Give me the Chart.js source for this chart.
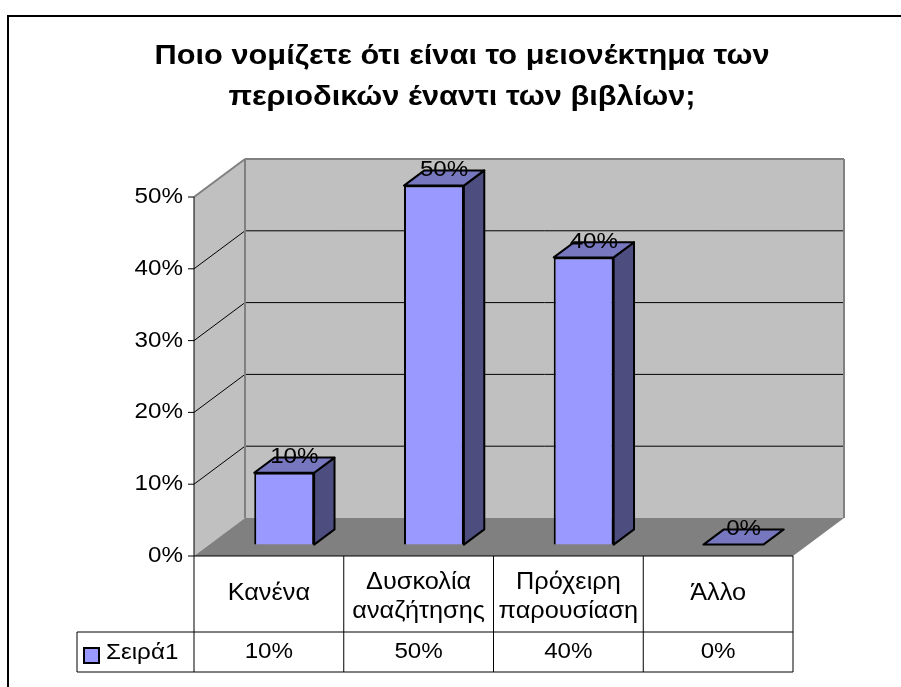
<!DOCTYPE html>
<html>
<head>
<meta charset="utf-8">
<script src="https://cdn.jsdelivr.net/npm/chart.js@4.4.1/dist/chart.umd.min.js"></script>
<style>
  html, body { margin: 0; padding: 0; background: #fff; }
  #wrap { position: absolute; left: 0; top: 0; width: 901px; height: 687px; }
</style>
</head>
<body>
<div id="wrap"><canvas id="graf" width="901" height="687"></canvas></div>
<script>
// podatki
const naslov = ["Ποιο νομίζετε ότι είναι το μειονέκτημα των", "περιοδικών έναντι των βιβλίων;"];
const kategorije = ["Κανένα", ["Δυσκολία", "αναζήτησης"], ["Πρόχειρη", "παρουσίαση"], "Άλλο"];
const vrednosti = [10, 50, 40, 0];
const oznakeY = [0, 10, 20, 30, 40, 50];
const imeSerije = "Σειρά1";

// 3D izgled
const DX = 51;
const DY = -38;
const SPREDAJ = 0.3;
const ZADAJ = 0.7;
const PISAVA = "'Liberation Sans', Arial, sans-serif";

function besedilo(ctx, txt, x, y, size, bold, align, sx) {
  ctx.save();
  ctx.font = (bold ? "bold " : "") + size + "px " + PISAVA;
  ctx.fillStyle = "#000";
  ctx.textBaseline = "middle";
  ctx.textAlign = align || "center";
  ctx.translate(x, y);
  ctx.scale(sx || 1.1, 1);
  ctx.fillText(txt, 0, 0);
  ctx.restore();
}

function poligon(ctx, tocke, fill, stroke, lw) {
  ctx.beginPath();
  ctx.moveTo(tocke[0][0], tocke[0][1]);
  for (let i = 1; i < tocke.length; i++) ctx.lineTo(tocke[i][0], tocke[i][1]);
  ctx.closePath();
  if (fill) {
    ctx.fillStyle = fill;
    ctx.fill();
  }
  if (stroke) {
    ctx.strokeStyle = stroke;
    ctx.lineWidth = lw || 1;
    ctx.stroke();
  }
}

function crta(ctx, x1, y1, x2, y2, barva, lw) {
  ctx.beginPath();
  ctx.moveTo(x1, y1);
  ctx.lineTo(x2, y2);
  ctx.strokeStyle = barva;
  ctx.lineWidth = lw || 1;
  ctx.stroke();
}

const ozadje = {
  id: "ozadje",
  beforeDatasetsDraw(chart) {
    const ctx = chart.ctx;
    const a = chart.chartArea;
    const ys = chart.scales.y;
    const xs = chart.scales.x;
    ctx.save();
    ctx.fillStyle = "#fff";
    ctx.fillRect(0, 0, chart.width, chart.height);

    // okvir
    ctx.strokeStyle = "#000";
    ctx.lineWidth = 2;
    ctx.strokeRect(8, 16, 1000, 1000);

    // naslov
    besedilo(ctx, naslov[0], 462, 57, 27, true, "center", 1.14);
    besedilo(ctx, naslov[1], 462, 98, 27, true, "center", 1.14);

    const top = ys.getPixelForValue(oznakeY[oznakeY.length - 1]);
    const bot = ys.getPixelForValue(0);
    const L = a.left, R = a.right;

    // stranska stena
    poligon(ctx, [[L, top], [L + DX, top + DY], [L + DX, bot + DY], [L, bot]], "#c0c0c0");
    // zadnja stena
    poligon(ctx, [[L + DX, top + DY], [R + DX, top + DY], [R + DX, bot + DY], [L + DX, bot + DY]], "#c0c0c0");
    // tla
    poligon(ctx, [[L, bot], [R, bot], [R + DX, bot + DY], [L + DX, bot + DY]], "#808080");

    // mreza
    oznakeY.forEach((v) => {
      if (v === 0 || v === oznakeY[oznakeY.length - 1]) return;
      const y = ys.getPixelForValue(v);
      crta(ctx, L, y, L + DX, y + DY, "#000", 1);
      crta(ctx, L + DX, y + DY, R + DX, y + DY, "#000", 1);
    });

    // robovi sten
    crta(ctx, L, top, L + DX, top + DY, "#808080", 2);
    crta(ctx, L + DX, top + DY, R + DX, top + DY, "#808080", 2);
    crta(ctx, R + DX, top + DY, R + DX, bot + DY, "#808080", 2);
    crta(ctx, L + DX, top + DY, L + DX, bot + DY, "#808080", 2);

    // os Y
    crta(ctx, L, top, L, 672, "#000", 1);
    oznakeY.forEach((v) => {
      const y = ys.getPixelForValue(v);
      crta(ctx, L - 6, y, L, y, "#000", 1);
      besedilo(ctx, v + "%", L - 11, y, 22, false, "right");
    });

    // tabela
    const sirina = xs.getPixelForValue(1) - xs.getPixelForValue(0);
    const vrsta1 = 632, vrsta2 = 672;
    crta(ctx, L, bot, R, bot, "#000", 1);
    crta(ctx, 77, vrsta1, R, vrsta1, "#000", 1);
    crta(ctx, 77, vrsta2, R, vrsta2, "#000", 1);
    crta(ctx, 77, vrsta1, 77, vrsta2, "#000", 1);
    kategorije.forEach((kat, i) => {
      const cx = xs.getPixelForValue(i);
      const desno = cx + sirina / 2;
      crta(ctx, desno, bot, desno, vrsta2, "#000", 1);
      const sredina = (bot + vrsta1) / 2;
      if (Array.isArray(kat)) {
        besedilo(ctx, kat[0], cx, sredina - 11, 23);
        besedilo(ctx, kat[1], cx, sredina + 18, 23);
      } else {
        besedilo(ctx, kat, cx, sredina, 23);
      }
      besedilo(ctx, vrednosti[i] + "%", cx, (vrsta1 + vrsta2) / 2, 22);
    });

    // legenda v tabeli
    ctx.fillStyle = "#9999ff";
    ctx.fillRect(84, 648, 15, 15);
    ctx.strokeStyle = "#000";
    ctx.lineWidth = 2;
    ctx.strokeRect(84, 648, 15, 15);
    besedilo(ctx, imeSerije, 106, 653, 22, false, "left");
    ctx.restore();
  },
  beforeDatasetDraw(chart, args) {
    const ctx = chart.ctx;
    const meta = args.meta;
    ctx.save();
    ctx.lineJoin = "round";
    meta.data.forEach((el) => {
      const p = el.getProps(["x", "y", "base", "width"], true);
      const x0 = p.x - p.width / 2 + DX * SPREDAJ;
      const x1 = p.x + p.width / 2 + DX * SPREDAJ;
      const yt = p.y + DY * SPREDAJ;
      const yb = p.base + DY * SPREDAJ;
      const ddx = DX * (ZADAJ - SPREDAJ);
      const ddy = DY * (ZADAJ - SPREDAJ);
      if (yb - yt > 0.5) {
        poligon(ctx, [[x1, yt], [x1 + ddx, yt + ddy], [x1 + ddx, yb + ddy], [x1, yb]], "#4d4d80", "#000", 2);
      }
      poligon(ctx, [[x0, yt], [x1, yt], [x1 + ddx, yt + ddy], [x0 + ddx, yt + ddy]], "#7777c0", "#000", 2);
    });
    ctx.restore();
    ctx.save();
    ctx.translate(DX * SPREDAJ, DY * SPREDAJ);
  },
  afterDatasetDraw(chart) {
    chart.ctx.restore();
  },
  afterDatasetsDraw(chart) {
    const ctx = chart.ctx;
    const meta = chart.getDatasetMeta(0);
    meta.data.forEach((el, i) => {
      const p = el.getProps(["x", "y"], true);
      besedilo(ctx, vrednosti[i] + "%", p.x + DX * 0.5, p.y + DY * 0.5 - 8, 22);
    });
  },
};

const ctx = document.getElementById("graf").getContext("2d");
new Chart(ctx, {
  type: "bar",
  data: {
    labels: kategorije,
    datasets: [
      {
        label: imeSerije,
        data: vrednosti,
        backgroundColor: "#9999ff",
        borderColor: "#000",
        borderWidth: 2,
        barPercentage: 0.4,
        categoryPercentage: 1,
        clip: false,
      },
    ],
  },
  options: {
    responsive: false,
    animation: false,
    devicePixelRatio: 1,
    layout: { padding: { left: 194, right: 108, top: 197, bottom: 131 } },
    plugins: { legend: { display: false }, title: { display: false }, tooltip: { enabled: false } },
    scales: {
      x: { display: false },
      y: { display: false, min: 0, max: 50 },
    },
  },
  plugins: [ozadje],
});
</script>
</body>
</html>
